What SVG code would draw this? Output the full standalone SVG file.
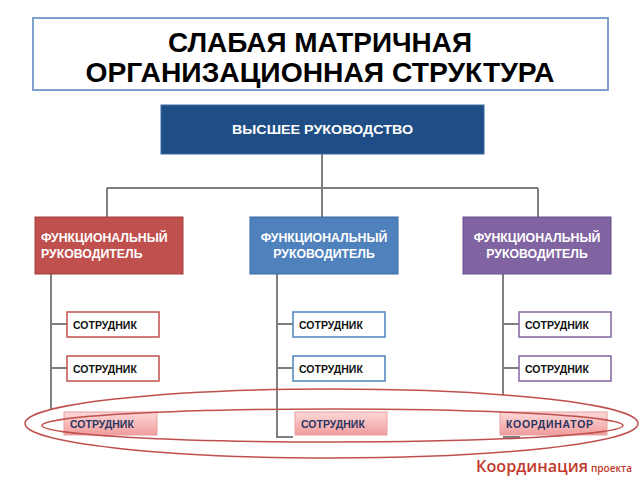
<svg xmlns="http://www.w3.org/2000/svg" width="640" height="480" viewBox="0 0 640 480">
<defs>
<style>
.t{font-family:"Liberation Sans",Arial,sans-serif;font-weight:bold}
.title{font-size:28px;fill:#000}
.head{font-size:12.3px;fill:#fff}
.emp{font-size:10.5px;fill:#111}
.emp2{font-size:10.5px;fill:#2a3560}
.conn{stroke:#7f7f7f;stroke-width:2;fill:none}
.ell{stroke:#c0504d;stroke-width:1.5;fill:none}
</style>
<linearGradient id="pink" x1="0" y1="0" x2="0" y2="1">
<stop offset="0" stop-color="#fcd9d9"/>
<stop offset="1" stop-color="#f19c9c"/>
</linearGradient>
</defs>
<rect width="640" height="480" fill="#fff"/>
<g id="title">
<rect x="33" y="18" width="575" height="72" fill="#fff" stroke="#7f9fcf" stroke-width="2"/>
<text class="t title" x="320" y="52" text-anchor="middle" textLength="304" lengthAdjust="spacingAndGlyphs">СЛАБАЯ МАТРИЧНАЯ</text>
<text class="t title" x="320" y="82" text-anchor="middle" textLength="469" lengthAdjust="spacingAndGlyphs">ОРГАНИЗАЦИОННАЯ СТРУКТУРА</text>
</g>
<g id="connectors">
<path class="conn" d="M322 154V217M107 188H538M107 188V217M538 188V217"/>
<path class="conn" d="M51 274V410M51 324H67M51 368H67"/>
<path class="conn" d="M277 274V437H293M277 324H293M277 368H293"/>
<path class="conn" d="M503 274V395M503 324H519M503 368H519M503 437H520"/>
</g>
<g id="top">
<rect x="161" y="105" width="323" height="49" fill="#1f4e86" stroke="#3d6aa0"/>
<text class="t head" x="322.5" y="134" text-anchor="middle" font-size="13.5" textLength="181" lengthAdjust="spacingAndGlyphs">ВЫСШЕЕ  РУКОВОДСТВО</text>
</g>
<g id="func1">
<rect x="35" y="217" width="148" height="57" fill="#c0504d" stroke="#a23f3c"/>
<text class="t head" x="41" y="242">ФУНКЦИОНАЛЬНЫЙ</text>
<text class="t head" x="41" y="258">РУКОВОДИТЕЛЬ</text>
</g>
<g id="func2">
<rect x="250" y="217" width="148" height="57" fill="#4f81bd" stroke="#3d6aa0"/>
<text class="t head" x="324" y="242" text-anchor="middle">ФУНКЦИОНАЛЬНЫЙ</text>
<text class="t head" x="324" y="258" text-anchor="middle">РУКОВОДИТЕЛЬ</text>
</g>
<g id="func3">
<rect x="463" y="217" width="148" height="57" fill="#8064a2" stroke="#66508a"/>
<text class="t head" x="537" y="242" text-anchor="middle">ФУНКЦИОНАЛЬНЫЙ</text>
<text class="t head" x="537" y="258" text-anchor="middle">РУКОВОДИТЕЛЬ</text>
</g>
<g id="emp1a"><rect x="67" y="312" width="92" height="25" fill="#fff" stroke="#c0504d" stroke-width="1.5"/><text class="t emp" x="73" y="328.5">СОТРУДНИК</text></g>
<g id="emp1b"><rect x="67" y="356" width="92" height="25" fill="#fff" stroke="#c0504d" stroke-width="1.5"/><text class="t emp" x="73" y="372.5">СОТРУДНИК</text></g>
<g id="emp2a"><rect x="293" y="312" width="92" height="25" fill="#fff" stroke="#4f81bd" stroke-width="1.5"/><text class="t emp" x="299" y="328.5">СОТРУДНИК</text></g>
<g id="emp2b"><rect x="293" y="356" width="92" height="25" fill="#fff" stroke="#4f81bd" stroke-width="1.5"/><text class="t emp" x="299" y="372.5">СОТРУДНИК</text></g>
<g id="emp3a"><rect x="519" y="312" width="92" height="25" fill="#fff" stroke="#8064a2" stroke-width="1.5"/><text class="t emp" x="525" y="328.5">СОТРУДНИК</text></g>
<g id="emp3b"><rect x="519" y="356" width="92" height="25" fill="#fff" stroke="#8064a2" stroke-width="1.5"/><text class="t emp" x="525" y="372.5">СОТРУДНИК</text></g>
<g id="emp1c"><rect x="64" y="412" width="93" height="23" fill="url(#pink)" stroke="#e8a0a0"/><text class="t emp2" x="70" y="427.5">СОТРУДНИК</text></g>
<g id="emp2c"><rect x="295" y="412" width="92" height="23" fill="url(#pink)" stroke="#e8a0a0"/><text class="t emp2" x="301" y="427.5">СОТРУДНИК</text></g>
<g id="coord"><rect x="500" y="412" width="107" height="23" fill="url(#pink)" stroke="#e8a0a0"/><text class="t emp2" x="506" y="427.5" textLength="87" lengthAdjust="spacing">КООРДИНАТОР</text></g>
<g id="ellipses">
<ellipse class="ell" cx="331.5" cy="423.5" rx="306.5" ry="34.5"/>
<ellipse class="ell" cx="332.5" cy="425.5" rx="290.5" ry="16.5"/>
</g>
<g id="label">
<text x="476" y="472" font-family="'Open Sans','Liberation Sans',sans-serif" font-weight="600" fill="#c0392b"><tspan font-size="16.5" textLength="112" lengthAdjust="spacingAndGlyphs">Координация</tspan><tspan font-size="11" x="591" textLength="41" lengthAdjust="spacingAndGlyphs">проекта</tspan></text>
</g>
</svg>
